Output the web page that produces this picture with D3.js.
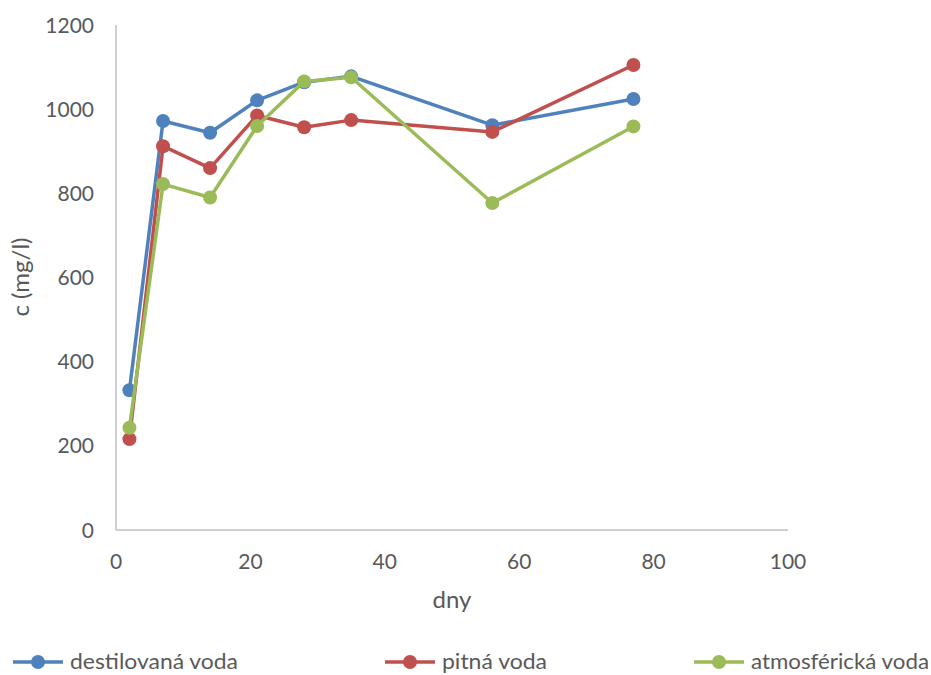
<!DOCTYPE html>
<html><head><meta charset="utf-8">
<script src="https://cdn.jsdelivr.net/npm/d3@7"></script>
<style>body{margin:0;background:#fff}svg{display:block}</style>
</head><body>
<svg id="c" width="931" height="675"></svg>
<script>
const days = [2, 7, 14, 21, 28, 35, 56, 77];
const destilovana = [332, 972, 944, 1021, 1064, 1078, 962, 1024];
const pitna = [216, 912, 860, 985, 957, 974, 946, 1105];
const atmosfericka = [243, 822, 790, 960, 1066, 1076, 777, 959];
const seriesNames = ["destilovaná voda", "pitná voda", "atmosférická voda"];
const seriesColors = ["#4F81BD", "#C0504D", "#9BBB59"];
const xTicks = [0, 20, 40, 60, 80, 100];
const yTicks = [0, 200, 400, 600, 800, 1000, 1200];

const series = [destilovana, pitna, atmosfericka];
const svg = d3.select("#c");
const font = "Lato, 'Open Sans', sans-serif";
const x = d3.scaleLinear().domain([0, 100]).range([116, 788]);
const y = d3.scaleLinear().domain([0, 1200]).range([530, 25]);

// axes
svg.append("line").attr("x1", x(0)).attr("x2", x(0)).attr("y1", y(1200)).attr("y2", y(0))
  .attr("stroke", "#BFBFBF").attr("stroke-width", 1.5);
svg.append("line").attr("x1", x(0)).attr("x2", x(100)).attr("y1", y(0)).attr("y2", y(0))
  .attr("stroke", "#BFBFBF").attr("stroke-width", 1.5);

svg.selectAll(".yt").data(yTicks).enter().append("text")
  .attr("x", 94).attr("y", d => y(d)).attr("dy", "0.36em").attr("text-anchor", "end")
  .attr("font-family", font).attr("font-size", 21).attr("fill", "#595959").text(d => d);
svg.selectAll(".xt").data(xTicks).enter().append("text")
  .attr("x", d => x(d)).attr("y", 561).attr("dy", "0.36em").attr("text-anchor", "middle")
  .attr("font-family", font).attr("font-size", 21).attr("fill", "#595959").text(d => d);

svg.append("text").attr("x", 452).attr("y", 608).attr("text-anchor", "middle")
  .attr("font-family", font).attr("font-size", 24).attr("fill", "#595959").text("dny");
svg.append("text").attr("transform", "translate(22,277) rotate(-90)").attr("dy", "0.3em")
  .attr("text-anchor", "middle").attr("font-family", font).attr("font-size", 24)
  .attr("fill", "#595959").text("c (mg/l)");

const line = d3.line().x((d, i) => x(days[i])).y(d => y(d));
series.forEach((s, k) => {
  const g = svg.append("g");
  g.append("path").datum(s).attr("d", line).attr("fill", "none")
    .attr("stroke", seriesColors[k]).attr("stroke-width", 3.5).attr("stroke-linejoin", "round");
  g.selectAll("circle").data(s).enter().append("circle")
    .attr("cx", (d, i) => x(days[i])).attr("cy", d => y(d)).attr("r", 7)
    .attr("fill", seriesColors[k]);
});

// legend
const legX = [38, 410, 719];
const legW = [168, 105, 178];
seriesNames.forEach((n, k) => {
  const g = svg.append("g");
  g.append("line").attr("x1", legX[k] - 25).attr("x2", legX[k] + 25).attr("y1", 662).attr("y2", 662)
    .attr("stroke", seriesColors[k]).attr("stroke-width", 3.5);
  g.append("circle").attr("cx", legX[k]).attr("cy", 662).attr("r", 7).attr("fill", seriesColors[k]);
  g.append("text").attr("x", legX[k] + 32).attr("y", 662).attr("dy", "0.35em")
    .attr("font-family", font).attr("font-size", 21).attr("fill", "#595959")
    .attr("textLength", legW[k]).attr("lengthAdjust", "spacingAndGlyphs").text(n);
});
</script>
</body></html>
